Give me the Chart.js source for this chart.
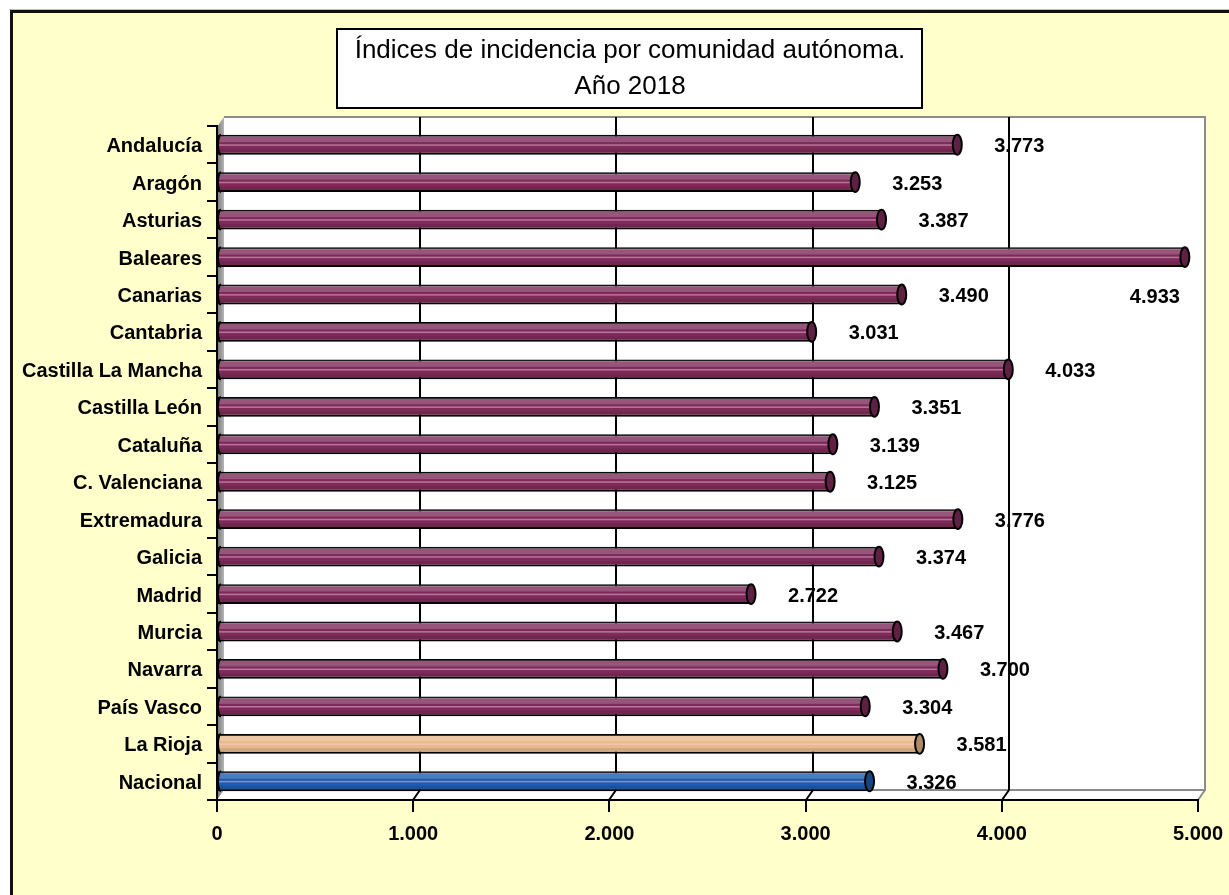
<!DOCTYPE html>
<html>
<head>
<meta charset="utf-8">
<script src="https://cdn.jsdelivr.net/npm/chart.js@4.4.1/dist/chart.umd.min.js"></script>
<style>
  html, body { margin: 0; padding: 0; background: #fff; }
  canvas { display: block; }
</style>
</head>
<body>
<canvas id="grafico" width="1229" height="895"></canvas>
<script>
// datos del gráfico
const comunidades = ['Andalucía', 'Aragón', 'Asturias', 'Baleares', 'Canarias', 'Cantabria',
  'Castilla La Mancha', 'Castilla León', 'Cataluña', 'C. Valenciana', 'Extremadura', 'Galicia',
  'Madrid', 'Murcia', 'Navarra', 'País Vasco', 'La Rioja', 'Nacional'];
const indices = [3773, 3253, 3387, 4933, 3490, 3031, 4033, 3351, 3139, 3125, 3776, 3374,
  2722, 3467, 3700, 3304, 3581, 3326];
const ticksX = [0, 1000, 2000, 3000, 4000, 5000];
const titulo = ['Índices de incidencia por comunidad autónoma.', 'Año 2018'];

const FUENTE = "'Liberation Sans', Arial, Helvetica, sans-serif";
const PROF_X = 7, PROF_Y = 10; // profundidad 3D de las paredes

function miles(v) {
  return String(v).replace(/\B(?=(\d{3})+(?!\d))/g, '.');
}

function colorBarra(nombre) {
  if (nombre === 'La Rioja') return '#e9b98b';
  if (nombre === 'Nacional') return '#1d5cae';
  return '#7e2b5a';
}

// fondo, paredes 3D y rejilla
const fondoPlugin = {
  id: 'fondo',
  beforeDraw(chart) {
    const ctx = chart.ctx;
    const a = chart.chartArea;
    const xs = chart.scales.x;
    ctx.save();
    ctx.fillStyle = '#ffffff';
    ctx.fillRect(0, 0, chart.width, chart.height);
    ctx.fillStyle = '#ffffcc';
    ctx.fillRect(11, 11, chart.width, chart.height);
    ctx.strokeStyle = '#bbbbbb';
    ctx.lineWidth = 1;
    ctx.beginPath(); ctx.moveTo(9, 9.5); ctx.lineTo(chart.width, 9.5); ctx.stroke();
    ctx.strokeStyle = '#111';
    ctx.lineWidth = 3;
    ctx.beginPath();
    ctx.moveTo(11.5, chart.height + 5);
    ctx.lineTo(11.5, 11.5);
    ctx.lineTo(chart.width + 5, 11.5);
    ctx.stroke();

    const top = a.top - 9, bot = a.bottom;
    // pared del fondo
    ctx.fillStyle = '#ffffff';
    ctx.fillRect(a.left + PROF_X, top, a.right - a.left, bot - PROF_Y - top);
    // suelo
    ctx.beginPath();
    ctx.moveTo(a.left, bot);
    ctx.lineTo(a.right, bot);
    ctx.lineTo(a.right + PROF_X, bot - PROF_Y);
    ctx.lineTo(a.left + PROF_X, bot - PROF_Y);
    ctx.closePath();
    ctx.fill();
    // pared izquierda
    const g = ctx.createLinearGradient(a.left, 0, a.left + PROF_X, 0);
    g.addColorStop(0, '#777');
    g.addColorStop(1, '#b5b5b5');
    ctx.fillStyle = g;
    ctx.beginPath();
    ctx.moveTo(a.left, top + PROF_Y);
    ctx.lineTo(a.left + PROF_X, top);
    ctx.lineTo(a.left + PROF_X, bot - PROF_Y);
    ctx.lineTo(a.left, bot);
    ctx.closePath();
    ctx.fill();
    // bordes grises
    ctx.strokeStyle = '#8c8c8c';
    ctx.lineWidth = 2;
    ctx.beginPath();
    ctx.moveTo(a.left + PROF_X, bot - PROF_Y);
    ctx.lineTo(a.right + PROF_X, bot - PROF_Y);
    ctx.lineTo(a.right + PROF_X, top);
    ctx.lineTo(a.left + PROF_X, top);
    ctx.moveTo(a.right, bot);
    ctx.lineTo(a.right + PROF_X, bot - PROF_Y);
    ctx.stroke();
    // rejilla vertical en la pared del fondo
    ctx.strokeStyle = '#000';
    ctx.lineWidth = 2;
    ticksX.forEach(v => {
      if (v === 0 || v === ticksX[ticksX.length - 1]) return;
      const px = Math.round(xs.getPixelForValue(v)) + PROF_X;
      ctx.beginPath();
      ctx.moveTo(px, top);
      ctx.lineTo(px, bot - PROF_Y);
      ctx.lineTo(px - PROF_X, bot);
      ctx.stroke();
    });
    ctx.restore();
  }
};

// efecto cilindro y etiquetas de valor
const cilindroPlugin = {
  id: 'cilindro',
  afterDatasetsDraw(chart) {
    const ctx = chart.ctx;
    const meta = chart.getDatasetMeta(0);
    ctx.save();
    meta.data.forEach((bar, i) => {
      const h = bar.height;
      const y0 = bar.y - h / 2;
      const x0 = bar.base + 1, x1 = bar.x;
      // bandas de brillo
      ctx.fillStyle = 'rgba(255,255,255,0.2)';
      ctx.fillRect(x0, y0 + 1, x1 - x0, h * 0.32);
      ctx.fillStyle = 'rgba(255,210,235,0.45)';
      ctx.fillRect(x0, y0 + h * 0.48, x1 - x0, 1.5);
      ctx.fillStyle = 'rgba(0,0,0,0.1)';
      ctx.fillRect(x0, y0 + h * 0.72, x1 - x0, h * 0.27);
      // tapa izquierda
      ctx.strokeStyle = '#000';
      ctx.lineWidth = 2;
      ctx.beginPath();
      ctx.ellipse(bar.base + 3, bar.y, 3, h / 2, 0, Math.PI / 2, Math.PI * 1.5);
      ctx.stroke();
      // tapa derecha
      ctx.fillStyle = colorBarra(comunidades[i]);
      ctx.beginPath();
      ctx.ellipse(x1, bar.y, 4.5, h / 2, 0, 0, Math.PI * 2);
      ctx.fill();
      ctx.fillStyle = 'rgba(0,0,0,0.25)';
      ctx.fill();
      ctx.stroke();

      // etiqueta del valor
      ctx.font = 'bold 20px ' + FUENTE;
      ctx.fillStyle = '#000';
      ctx.textAlign = 'center';
      ctx.textBaseline = 'middle';
      const txt = miles(indices[i]);
      const w = ctx.measureText(txt).width;
      let lx = x1 + 62, ly = bar.y + 2;
      if (lx + w / 2 > chart.chartArea.right) {
        lx = x1 - 30;
        ly = bar.y + 40;
      }
      ctx.fillText(txt, lx, ly);
    });
    ctx.restore();
  }
};

// título en recuadro
const tituloPlugin = {
  id: 'tituloCaja',
  afterDraw(chart) {
    const ctx = chart.ctx;
    ctx.save();
    ctx.fillStyle = '#fff';
    ctx.fillRect(337, 29, 585, 79);
    ctx.strokeStyle = '#000';
    ctx.lineWidth = 2;
    ctx.strokeRect(337, 29, 585, 79);
    ctx.fillStyle = '#000';
    ctx.font = '26px ' + FUENTE;
    ctx.textAlign = 'center';
    ctx.textBaseline = 'middle';
    ctx.fillText(titulo[0], 630, 51);
    ctx.fillText(titulo[1], 630, 87);
    ctx.restore();
  }
};

window.addEventListener('load', function() {
  const ctx = document.getElementById('grafico').getContext('2d');
  new Chart(ctx, {
    type: 'bar',
    data: {
      labels: comunidades,
      datasets: [{
        data: indices,
        backgroundColor: comunidades.map(colorBarra),
        borderColor: '#000',
        borderWidth: 2,
        borderSkipped: 'start',
        barPercentage: 1,
        categoryPercentage: 0.53
      }]
    },
    options: {
      indexAxis: 'y',
      responsive: false,
      animation: false,
      layout: { padding: { left: 0, top: 126, right: 31, bottom: 0 } },
      plugins: {
        legend: { display: false },
        tooltip: { enabled: false }
      },
      scales: {
        y: {
          afterFit(scale) { scale.width = 217; },
          grid: { drawOnChartArea: false, tickLength: 10, color: '#000', lineWidth: 2 },
          border: { display: true, color: '#000', width: 2 },
          ticks: { color: '#000', padding: 5, labelOffset: 2, font: { family: FUENTE, size: 20, weight: 'bold' } }
        },
        x: {
          min: 0,
          max: 5000,
          afterFit(scale) {
            scale.height = 95;
            scale.paddingLeft = 0;
            scale.paddingRight = 0;
          },
          afterBuildTicks(scale) { scale.ticks = ticksX.map(v => ({ value: v })); },
          grid: { drawOnChartArea: false, tickLength: 12, color: '#000', lineWidth: 2 },
          border: { display: true, color: '#000', width: 2 },
          ticks: {
            color: '#000',
            padding: 10,
            maxRotation: 0,
            font: { family: FUENTE, size: 20, weight: 'bold' },
            callback: (v) => miles(v)
          }
        }
      }
    },
    plugins: [fondoPlugin, cilindroPlugin, tituloPlugin]
  });
});
</script>
</body>
</html>
